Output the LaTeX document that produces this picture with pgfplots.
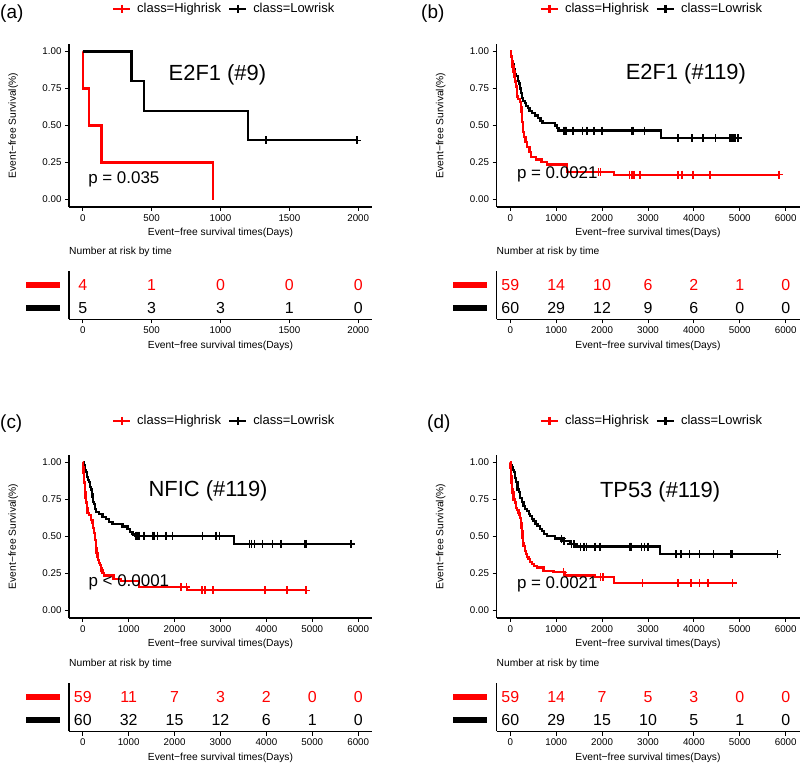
\documentclass[border=0pt]{standalone}
\usepackage{pgfplots}
\pgfplotsset{compat=1.18}
\usepackage{fontspec}
\setmainfont{Liberation Sans}

\newcommand\tickf{\fontsize{9.8}{11}\selectfont}
\newcommand\labf{\fontsize{10.3}{12}\selectfont}
\newcommand\legf{\fontsize{13}{15}\selectfont}
\newcommand\titf{\fontsize{22}{26}\selectfont}
\newcommand\pvf{\fontsize{17}{20}\selectfont}
\newcommand\numf{\fontsize{16}{19}\selectfont}
\newcommand\panf{\fontsize{19}{22}\selectfont}

\pgfplotsset{
  base/.style={
    scale only axis, width=303bp,
    axis x line*=bottom, axis y line*=left,
    axis line style={line width=1.1bp, -},
    tick align=outside, major tick length=4bp,
    tick style={line width=0.9bp, black},
    tick label style={font=\tickf},
    /pgf/number format/assume math mode=true,
    every axis x label/.style={at={(axis description cs:0.5,0)}, anchor=center, yshift=-26bp, font=\labf},
    xlabel={Event−free survival times(Days)},
    scaled x ticks=false,
    xticklabel style={/pgf/number format/1000 sep={}},
  },
  km/.style={base, height=163bp,
    ymin=-0.05, ymax=1.05, ytick={0,0.25,0.5,0.75,1},
    yticklabels={0.00,0.25,0.50,0.75,1.00},
    every axis y label/.style={at={(axis description cs:-0.184,0.5)}, anchor=center, rotate=90, font=\labf},
    ylabel={Event−free Survival(\%)},
    legend columns=2, legend cell align=left,
    legend style={draw=none, fill=none, font=\legf, anchor=center,
      /tikz/every odd column/.append style={column sep=4bp},
      /tikz/every even column/.append style={column sep=5bp}},
  },
  risk/.style={base, height=48bp, ymin=0.5, ymax=2.6, ytick={1,2},
    ytick style={draw=none},
    yticklabels={{\color{black}\rule{34bp}{5.5bp}},{\color{red}\rule{34bp}{5.5bp}}},
    yticklabel style={inner sep=0pt, xshift=-5bp},
    title={Number at risk by time},
    title style={at={(axis description cs:0,1)}, anchor=base west, inner sep=0pt, yshift=11bp, font=\labf},
  },
  surv/.style={const plot, line width=2.2bp, mark=none, forget plot},
  cens/.style={only marks, mark=+, mark size=4bp, mark options={line width=1.5bp}, forget plot},
  nar/.style={draw=none, mark=none, nodes near coords, point meta=explicit symbolic,
    nodes near coords align={anchor=center},
    every node near coord/.append style={font=\numf, inner sep=0pt, text=#1}},
}

\newcommand\kmlegend{%
  \addlegendimage{red, line width=2.2bp, mark=+, mark size=4bp}
  \addlegendentry{class=Highrisk}
  \addlegendimage{black, line width=2.2bp, mark=+, mark size=4bp}
  \addlegendentry{class=Lowrisk}}

\begin{document}
\begin{tikzpicture}
\useasboundingbox (0bp,0bp) rectangle (800bp,763bp);

% panel labels
\node[font=\panf, anchor=west, inner sep=0pt] at (0bp,749bp) {(a)};
\node[font=\panf, anchor=west, inner sep=0pt] at (421bp,749bp) {(b)};
\node[font=\panf, anchor=west, inner sep=0pt] at (0bp,339bp) {(c)};
\node[font=\panf, anchor=west, inner sep=0pt] at (427bp,339bp) {(d)};

% ---------------- (a) ----------------
\begin{axis}[km, at={(69bp,556bp)}, anchor=south west,
  xmin=-100, xmax=2100, xtick={0,500,1000,1500,2000},
  legend style={at={(axis description cs:0.512,1.215)}}]
\kmlegend
\addplot[surv, red] coordinates {(0,1) (3,0.75) (46,0.5) (136,0.25) (943,0)};
\addplot[surv, black] coordinates {(0,1) (354,0.8) (446,0.6) (1198,0.4) (1990,0.4)};
\addplot[cens, black] coordinates {(1331,0.4) (1990,0.4)};
\node[font=\titf] at (rel axis cs:0.49,0.81) {E2F1 (\#9)};
\node[font=\pvf, anchor=base west, inner sep=0pt] at (rel axis cs:0.063,0.145) {p = 0.035};
\end{axis}

\begin{axis}[risk, at={(69bp,443.5bp)}, anchor=south west,
  xmin=-100, xmax=2100, xtick={0,500,1000,1500,2000}]
\addplot[nar=red] table[meta=n, row sep=\\] {x y n\\ 0 2 4\\ 500 2 1\\ 1000 2 0\\ 1500 2 0\\ 2000 2 0\\};
\addplot[nar=black] table[meta=n, row sep=\\] {x y n\\ 0 1 5\\ 500 1 3\\ 1000 1 3\\ 1500 1 1\\ 2000 1 0\\};
\end{axis}

% ---------------- (b) ----------------
\begin{axis}[km, at={(496.5bp,556bp)}, anchor=south west,
  xmin=-300, xmax=6300, xtick={0,1000,...,6000},
  legend style={at={(axis description cs:0.513,1.215)}}]
\kmlegend
\addplot[surv, black] coordinates {(0,1) (15,0.967) (30,0.933) (50,0.917) (70,0.883) (100,0.85)
  (130,0.833) (160,0.8) (190,0.783) (215,0.75) (235,0.717) (255,0.683) (285,0.667) (320,0.65)
  (350,0.633) (390,0.617) (420,0.6) (470,0.583) (540,0.567) (610,0.55) (660,0.533) (700,0.517)
  (975,0.5) (1015,0.483) (1050,0.466) (3290,0.415) (4960,0.415)};
\addplot[cens, black] coordinates {(1160,0.466) (1175,0.466) (1190,0.466) (1205,0.466) (1220,0.466)
  (1365,0.466) (1569,0.466) (1657,0.466) (1679,0.466) (1825,0.466) (1993,0.466) (2650,0.466)
  (2679,0.466) (2920,0.466) (3650,0.415) (3956,0.415) (4197,0.415) (4467,0.415) (4781,0.415)
  (4830,0.415) (4860,0.415) (4890,0.415) (4960,0.415)};
\addplot[surv, red] coordinates {(0,1) (15,0.966) (30,0.932) (50,0.898) (70,0.864) (90,0.83)
  (110,0.797) (125,0.763) (140,0.729) (150,0.695) (170,0.678) (210,0.661) (230,0.627) (245,0.593)
  (255,0.559) (262,0.525) (270,0.492) (280,0.458) (300,0.424) (330,0.39) (370,0.356) (420,0.322)
  (460,0.288) (560,0.271) (680,0.254) (800,0.237) (1240,0.186) (2260,0.168) (5850,0.168)};
\addplot[cens, red] coordinates {(1927,0.186) (1960,0.186) (2596,0.168) (2655,0.168) (2691,0.168)
  (2822,0.168) (3658,0.168) (3745,0.168) (3985,0.168) (4349,0.168) (5850,0.168)};
\node[font=\titf] at (rel axis cs:0.625,0.816) {E2F1 (\#119)};
\node[font=\pvf, anchor=base west, inner sep=0pt] at (rel axis cs:0.067,0.176) {p = 0.0021};
\end{axis}

\begin{axis}[risk, at={(496.5bp,443.5bp)}, anchor=south west,
  xmin=-300, xmax=6300, xtick={0,1000,...,6000}]
\addplot[nar=red] table[meta=n, row sep=\\] {x y n\\ 0 2 59\\ 1000 2 14\\ 2000 2 10\\ 3000 2 6\\ 4000 2 2\\ 5000 2 1\\ 6000 2 0\\};
\addplot[nar=black] table[meta=n, row sep=\\] {x y n\\ 0 1 60\\ 1000 1 29\\ 2000 1 12\\ 3000 1 9\\ 4000 1 6\\ 5000 1 0\\ 6000 1 0\\};
\end{axis}

% ---------------- (c) ----------------
\begin{axis}[km, at={(69bp,145bp)}, anchor=south west,
  xmin=-300, xmax=6300, xtick={0,1000,...,6000},
  legend style={at={(axis description cs:0.512,1.21)}}]
\kmlegend
\addplot[surv, black] coordinates {(0,1) (15,0.983) (40,0.95) (65,0.933) (90,0.9) (110,0.883)
  (138,0.867) (160,0.833) (175,0.817) (195,0.783) (211,0.767) (230,0.733) (247,0.717) (265,0.683)
  (284,0.667) (356,0.65) (429,0.633) (500,0.617) (574,0.6) (647,0.583) (865,0.567) (975,0.55)
  (1030,0.533) (1084,0.517) (1150,0.506) (3287,0.45) (5840,0.45)};
\addplot[cens, black] coordinates {(1156,0.506) (1175,0.506) (1193,0.506) (1212,0.506) (1230,0.506)
  (1338,0.506) (1520,0.506) (1556,0.506) (1629,0.506) (1811,0.506) (1956,0.506) (2611,0.506)
  (2902,0.506) (2975,0.506) (3629,0.45) (3680,0.45) (3738,0.45) (3920,0.45) (4138,0.45)
  (4320,0.45) (4829,0.45) (4865,0.45) (5840,0.45)};
\addplot[surv, red] coordinates {(0,1) (8,0.966) (15,0.932) (25,0.898) (35,0.864) (44,0.83)
  (52,0.797) (60,0.763) (67,0.729) (85,0.695) (102,0.661) (140,0.644) (175,0.61) (211,0.593)
  (230,0.559) (247,0.525) (262,0.475) (284,0.424) (300,0.39) (320,0.36) (340,0.343) (356,0.322)
  (375,0.305) (393,0.288) (410,0.271) (429,0.254) (465,0.237) (669,0.215) (829,0.197)
  (1229,0.159) (2269,0.137) (4866,0.137)};
\addplot[cens, red] coordinates {(2138,0.159) (2255,0.159) (2600,0.137) (2660,0.137) (2840,0.137)
  (3965,0.137) (4448,0.137) (4866,0.137)};
\node[font=\titf] at (rel axis cs:0.459,0.779) {NFIC (\#119)};
\node[font=\pvf, anchor=base west, inner sep=0pt] at (rel axis cs:0.064,0.192) {p < 0.0001};
\end{axis}

\begin{axis}[risk, at={(69bp,31.5bp)}, anchor=south west,
  xmin=-300, xmax=6300, xtick={0,1000,...,6000}]
\addplot[nar=red] table[meta=n, row sep=\\] {x y n\\ 0 2 59\\ 1000 2 11\\ 2000 2 7\\ 3000 2 3\\ 4000 2 2\\ 5000 2 0\\ 6000 2 0\\};
\addplot[nar=black] table[meta=n, row sep=\\] {x y n\\ 0 1 60\\ 1000 1 32\\ 2000 1 15\\ 3000 1 12\\ 4000 1 6\\ 5000 1 1\\ 6000 1 0\\};
\end{axis}

% ---------------- (d) ----------------
\begin{axis}[km, at={(496.5bp,145bp)}, anchor=south west,
  xmin=-300, xmax=6300, xtick={0,1000,...,6000},
  legend style={at={(axis description cs:0.513,1.21)}}]
\kmlegend
\addplot[surv, black] coordinates {(0,1) (14,0.983) (35,0.967) (58,0.951) (80,0.933) (108,0.895)
  (130,0.867) (159,0.817) (185,0.8) (217,0.761) (250,0.733) (289,0.705) (320,0.683) (361,0.671)
  (400,0.65) (434,0.638) (470,0.617) (506,0.604) (550,0.583) (593,0.571) (640,0.55) (687,0.537)
  (740,0.517) (795,0.503) (976,0.486) (1157,0.47) (1301,0.448) (1410,0.432) (3253,0.38) (5819,0.38)};
\addplot[cens, black] coordinates {(1120,0.486) (1171,0.47) (1330,0.448) (1388,0.448)
  (1532,0.432) (1605,0.432) (1663,0.432) (1843,0.432) (1952,0.432) (2603,0.432) (2620,0.432)
  (2639,0.432) (2856,0.432) (2928,0.432) (3000,0.432) (3615,0.38) (3723,0.38) (3904,0.38)
  (4121,0.38) (4425,0.38) (4808,0.38) (4844,0.38) (5819,0.38)};
\addplot[surv, red] coordinates {(0,1) (6,0.966) (14,0.906) (25,0.864) (36,0.817) (50,0.797)
  (72,0.75) (100,0.729) (130,0.694) (150,0.678) (181,0.66) (200,0.644) (217,0.627) (230,0.593)
  (245,0.559) (253,0.537) (265,0.49) (280,0.458) (289,0.436) (315,0.4) (340,0.38) (370,0.363)
  (398,0.347) (430,0.33) (470,0.313) (520,0.3) (578,0.291) (723,0.268) (940,0.258) (1193,0.237)
  (1843,0.224) (2256,0.186) (4844,0.186)};
\addplot[cens, red] coordinates {(1157,0.258) (1966,0.224) (2024,0.224) (2877,0.186) (3651,0.186)
  (3940,0.186) (4121,0.186) (4302,0.186) (4844,0.186)};
\node[font=\titf] at (rel axis cs:0.54,0.775) {TP53 (\#119)};
\node[font=\pvf, anchor=base west, inner sep=0pt] at (rel axis cs:0.067,0.182) {p = 0.0021};
\end{axis}

\begin{axis}[risk, at={(496.5bp,31.5bp)}, anchor=south west,
  xmin=-300, xmax=6300, xtick={0,1000,...,6000}]
\addplot[nar=red] table[meta=n, row sep=\\] {x y n\\ 0 2 59\\ 1000 2 14\\ 2000 2 7\\ 3000 2 5\\ 4000 2 3\\ 5000 2 0\\ 6000 2 0\\};
\addplot[nar=black] table[meta=n, row sep=\\] {x y n\\ 0 1 60\\ 1000 1 29\\ 2000 1 15\\ 3000 1 10\\ 4000 1 5\\ 5000 1 1\\ 6000 1 0\\};
\end{axis}
\end{tikzpicture}
\end{document}
